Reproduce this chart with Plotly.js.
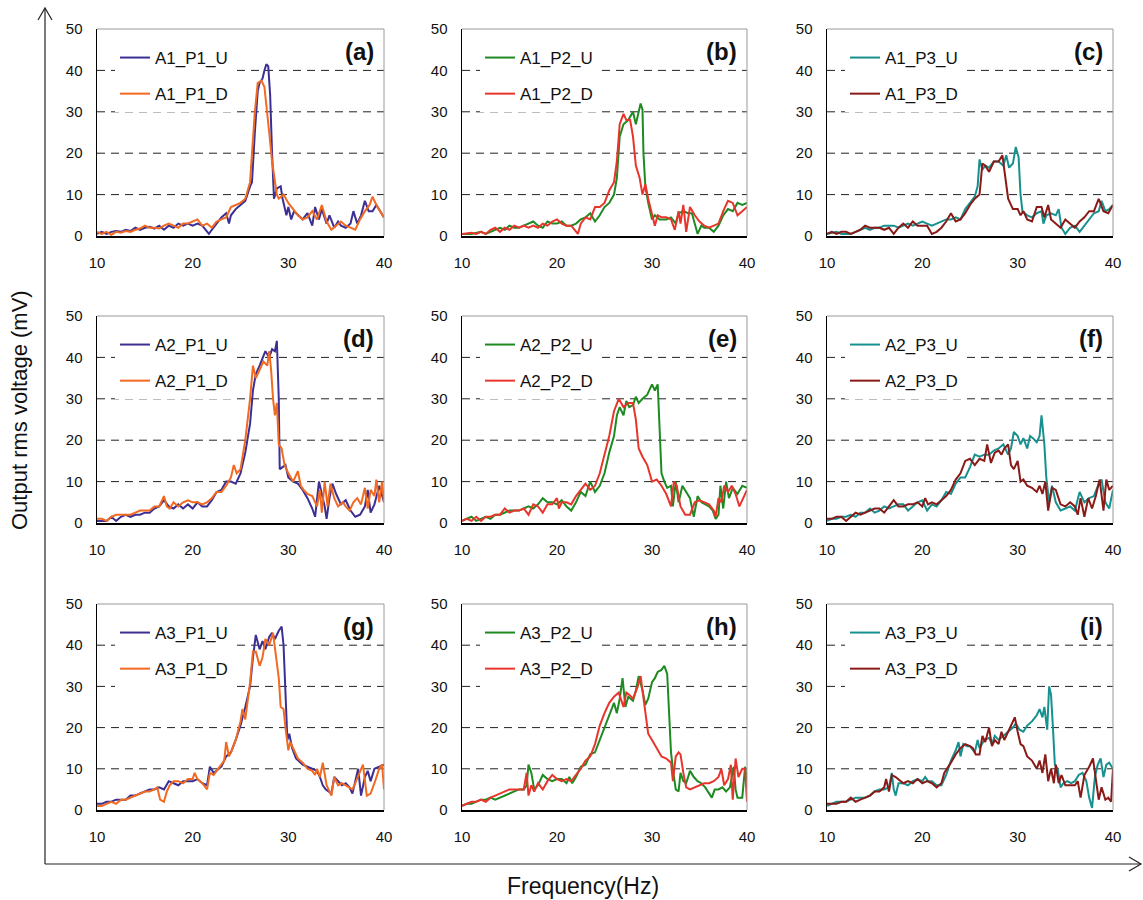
<!DOCTYPE html>
<html>
<head>
<meta charset="utf-8">
<script src="https://cdn.plot.ly/plotly-3.0.1.min.js"></script>
<style>html,body{margin:0;padding:0;background:#fff;}#chart{width:1143px;height:900px;}</style>
</head>
<body>
<div id="chart"></div>
<script>
// ---------------- DATA (frequency in Hz, output rms voltage in mV) ----------------
const xTicks = [10, 20, 30, 40];
const yTicks = [0, 10, 20, 30, 40, 50];
const gridValues = [10, 20, 30, 40];
const panelLabels = ['(a)', '(b)', '(c)', '(d)', '(e)', '(f)', '(g)', '(h)', '(i)'];

const freq_A1_P1_U = [10,10.5,11,11.5,12,12.5,13,13.5,14,14.5,15,15.5,16,16.5,17,17.5,18,18.5,19,19.5,20,20.5,21,21.7,22,22.5,23,23.5,23.8,24,24.5,25,25.5,26,26.2,26.5,26.8,27,27.3,27.5,27.7,27.9,28.1,28.3,28.5,28.8,29.2,29.4,29.8,30,30.3,30.6,31,31.5,32,32.5,32.8,33.2,33.5,34,34.3,34.8,35.2,35.5,36,36.5,36.8,37.2,37.6,38,38.4,38.8,39.2,39.6,40];
const volt_A1_P1_U = [0.5,1,0.5,1,1.2,1,1.5,1.2,2,1.5,2,2.2,1.8,2.5,1.5,2.5,2,3,2.5,3,2.5,3,2.5,0.5,1.5,3,4.5,5.5,3,5,6.5,7.5,8.5,12,13,25,35,37,38,40,41.5,41,34,20,9,11.5,12,9,5,7,4,6,5,4,5.5,2.5,7,4,6.5,3,5,2,3.5,2.5,2,3,6,3,5,8.5,6,6,7.5,6,4.5];
const freq_A1_P1_D = [10,10.5,11,11.5,12,12.5,13,13.5,14,14.5,15,15.5,16,16.5,17,17.5,18,18.5,19,19.5,20,20.5,21,21.5,22,22.5,23,23.5,24,24.5,25,25.5,26,26.2,26.5,26.8,27.2,27.5,27.8,28,28.3,28.5,28.8,29,29.5,30,30.5,31,31.5,32,32.5,33,33.5,34,34.5,35,35.5,36,36.5,37,37.5,38,38.5,38.8,39.2,39.6,40];
const volt_A1_P1_D = [1,0.5,1,0.3,1,0.8,1.2,1,1.5,1.8,2.5,2,2,1.8,2.5,3,2.5,2,3,3,3.5,4,2.5,3,2,3.5,4,4.5,7,7.5,8,9,13,20,30,37,37.5,36,30,25,18,15,10,9,10,8,6.5,5,4,4.5,6,4,7.5,3.5,1.5,2.5,3.5,2.5,2,1.5,4,6,7.5,9.5,7.5,6,4.5];

const freq_A1_P2_U = [10,11,12,12.5,13,13.5,14,14.5,15,15.5,16,16.5,17,17.5,18,18.5,19,19.5,20,20.5,21,21.5,22,22.5,23,23.5,24,24.5,25,25.5,26,26.3,26.6,27,27.5,28,28.3,28.5,28.8,29,29.1,29.3,29.6,30,30.3,30.8,31.5,32,32.5,32.8,33.3,33.8,34.2,34.5,34.8,35.2,35.5,36,36.5,37,37.5,38,38.5,39,39.5,40];
const volt_A1_P2_U = [0.5,0.5,1,0.5,1,1.5,2,1.5,2.5,2,2,2.5,3,3.5,2.5,2,3.5,3,3,3.5,2.5,2.5,3,4,4.5,5.5,3.5,5,7,8,10,14,24,27,28,30,27,29,32,30.5,20,12,8,4,5,4,4,4.5,3,5.5,6,5.5,5.5,3,0.5,2.5,2,2,1,2.5,5,6.5,6,8,7.5,8];
const freq_A1_P2_D = [10,11,11.5,12,12.5,13,13.5,14,14.5,15,15.5,16,16.5,17,17.5,18,18.5,19,19.5,20,20.5,21,21.5,22,22.2,22.5,23,23.5,24,24.5,25,25.5,26,26.3,26.6,27,27.3,27.7,28,28.3,28.7,29,29.3,29.6,30,30.3,30.6,31,31.5,32,32.4,32.8,33,33.3,33.6,34,34.5,35,35.5,36,36.5,37,37.5,38,38.5,39,39.5,40];
const volt_A1_P2_D = [0.5,0.8,0.5,1,0.5,1.5,2,1,2,1.5,2.5,2,2.5,2,2.5,2,3,2.5,3.5,4,3,2.5,2.5,1,0.5,3,4.5,4,7,7,8,11,13,18,27,29.5,28,28,24,17,14,10,12.5,9,5,2.5,5,4.5,4.5,4,1.5,6,3,7.5,1,7,5,3.5,2.5,2,2.5,3,6,8.5,8,5,6,7];

const freq_A1_P3_U = [10,11,11.5,12,12.5,13,13.5,14,14.5,15,15.5,16,16.5,17,17.5,18,18.5,19,19.5,20,20.5,21,21.5,22,22.5,23,23.5,24,24.5,25,25.5,25.8,26,26.3,26.6,27,27.5,28,28.5,28.8,29.1,29.5,29.8,30.1,30.3,30.5,31,31.5,32,32.5,32.7,33,33.5,34,34.3,34.6,35,35.5,36,36.5,37,37.5,38,38.5,38.8,39.2,39.6,40];
const volt_A1_P3_U = [0.5,1,0.5,0.5,0.5,1,1.5,2,1.5,2,2,2.5,2.5,2.5,2,2.5,3,2.5,3,3.5,3,2.5,3,3.5,4,4,4.5,4,6.5,8,9.5,12,18.5,16,17,16.5,18,18,17,19.5,16.5,17.5,21.5,19,10,6,5,4.5,5.5,6,3,5,5.5,5,6.5,2,0.5,2,2.5,1,2.5,4,5.5,6,8.5,6,6.5,7.5];
const freq_A1_P3_D = [10,10.5,11,11.5,12,12.5,13,13.5,14,14.5,15,15.5,16,16.5,17,17.5,18,18.5,19,19.5,20,20.5,21,21.5,22,22.5,23,23.5,24,24.5,25,25.5,26,26.3,26.6,27,27.5,28,28.4,28.7,29,29.5,30,30.3,30.6,31,31.5,32,32.5,32.8,33.2,33.5,34,34.5,35,35.5,36,36.5,37,37.5,38,38.5,39,39.5,40];
const volt_A1_P3_D = [0.5,1,0.5,1,1,0.5,1,1.5,2.5,2,2,2,1.5,2,0.5,2,3,2,3.5,2.5,2.5,2.5,0.5,1,2,3.5,5.5,3.5,4,5.5,7.5,9,10,17.5,17,15.5,18,18,19.5,14,9,6.5,6.5,5,6,4,3.5,7,7,4.5,7.5,4,3,2,4,3,2,3.5,4.5,6,6,9,6,5.5,7.5];

const freq_A2_P1_U = [10,10.5,11,11.5,12,12.5,13,13.5,14,14.5,15,15.5,16,16.5,17,17.5,18,18.5,19,19.5,20,20.5,21,21.5,22,22.5,23,23.5,24,24.5,25,25.5,26,26.3,26.6,27,27.3,27.6,28,28.3,28.6,28.8,29,29.1,29.4,29.7,30,30.5,31,31.5,32,32.5,32.8,33.2,33.5,33.8,34,34.3,34.6,35,35.5,36,36.5,37,37.5,38,38.3,38.6,39,39.5,40];
const volt_A2_P1_U = [0.5,0.5,0.5,1.5,0.5,1.5,2,1.5,2,2,2.5,2.5,3.5,4,5.5,4,3.5,4.5,3.5,4.5,3.5,5,4,4,5.5,7.5,8,10,10,9.5,12,17,24,32,36,38,40,41.5,40,42,41.5,44,30,13,13.5,14,11,10,9.5,8,6,3.5,1.5,10,7,4,1,6,9.5,7,4.5,5.5,3,1.5,2,4,8,2.5,4.5,9,5];
const freq_A2_P1_D = [10,10.5,11,11.5,12,12.5,13,13.5,14,14.5,15,15.5,16,16.5,17,17.3,17.6,18,18.5,19,19.5,20,20.5,21,21.5,22,22.5,23,23.5,24,24.3,24.6,25,25.5,26,26.3,26.6,27,27.4,27.8,28,28.2,28.4,28.6,28.8,29,29.3,29.6,30,30.5,31,31.3,31.6,32,32.5,33,33.3,33.5,33.8,34.1,34.4,34.8,35.2,35.7,36,36.4,36.8,37.2,37.6,38,38.3,38.6,39,39.2,39.5,39.8,40];
const volt_A2_P1_D = [1,1,0.5,1.5,2,2,2,2,2.5,3,3,3,4,4,6.5,4,3.5,5,4,5,5.5,5,5,4.5,5,6,7.5,7.5,9,11,14,12,13,20,30,38,35,37,39,38,41.5,37,30,26,29,19,18,14,12,10,12.5,9,8,7,6.5,4,8,2.5,10,4,9.5,6,4,5,4,3,5,6,4.5,8.5,3.5,8,6.5,10.5,5,10,5];

const freq_A2_P2_U = [10,10.5,11,11.5,12,12.5,13,13.5,14,14.5,15,15.5,16,16.5,17,17.5,18,18.5,19,19.5,20,20.5,21,21.5,22,22.5,23,23.5,24,24.5,25,25.5,26,26.3,26.6,27,27.3,27.6,28,28.3,28.6,29,29.5,30,30.3,30.6,30.8,31,31.3,31.6,32,32.2,32.5,32.8,33.2,33.6,34,34.4,34.8,35.2,35.6,36,36.4,36.7,37,37.2,37.5,37.8,38.1,38.5,39,39.5,40];
const volt_A2_P2_U = [0.5,1,1.5,0.5,1,1.5,1,2,2,2.5,3,3,3,3.5,4,3.5,4.5,6,5,5,4.5,5.5,4,3,5,7.5,6.5,10,7.5,9,12,17,21,26,28,26,29.5,28,28.5,30.5,29,30,31,33.5,32,33.5,23,12,10,8.5,9,4,10,5,9,7.5,6,1.5,6.5,5,4.5,4,3,1,2,9,3.5,10,6,8.5,7,9,8.5];
const freq_A2_P2_D = [10,10.5,11,11.5,12,12.5,13,13.5,14,14.5,15,15.5,16,16.5,17,17.5,18,18.5,19,19.5,20,20.2,20.5,21,21.5,22,22.5,23,23.5,24,24.5,25,25.5,26,26.5,27,27.5,28,28.3,28.6,29,29.5,30,30.5,31,31.5,32,32.3,32.6,33,33.5,34,34.5,35,35.5,36,36.5,36.7,37,37.3,37.6,38,38.4,38.8,39.2,39.6,40];
const volt_A2_P2_D = [0.5,1,0.5,1.5,0.5,1.5,1.5,2,2,3.5,2.5,3,3,3.5,2,4.5,4,2.5,4.5,4.5,6,3.5,5,5,4.5,6.5,8,9.5,8,9,12,16.5,21,27,30,28,29,29,25,18,16,14,10,10.5,9,7,4,10,9,4,2,2,5,5.5,5,4.5,3,1.5,6,5,9,7.5,9,7,4,6,8];

const freq_A2_P3_U = [10,10.5,11,11.5,12,12.5,13,13.5,14,14.5,15,15.5,16,16.5,17,17.5,18,18.5,19,19.5,20,20.5,21,21.5,22,22.5,23,23.5,24,24.5,25,25.5,26,26.5,27,27.5,28,28.5,29,29.3,29.6,30,30.3,30.6,31,31.3,31.6,32,32.3,32.5,32.8,33,33.3,33.6,34,34.5,35,35.5,36,36.5,37,37.5,38,38.5,38.8,39.2,39.6,40];
const volt_A2_P3_U = [0.5,1,1,1.5,1.5,2,1.5,2.5,2.5,3.5,2.5,3,4,3.5,4,4.5,4.5,3,4,5,5.5,3,4.5,4,5.5,7.5,7,9.5,11,11,13.5,16.5,16,16.5,16.5,17.5,18,19,16.5,18,22,21,19,20.5,18,21,20.5,19.5,21,26,19,11,5,9,5,3,3.5,4,3,7.5,5,6,6.5,9.5,10.5,5,3.5,8];
const freq_A2_P3_D = [10,10.5,11,11.5,12,12.5,13,13.5,14,14.5,15,15.5,16,16.5,17,17.5,18,18.5,19,19.5,20,20.3,20.6,21,21.5,22,22.5,23,23.5,24,24.5,25,25.5,26,26.5,26.8,27.2,27.6,28,28.3,28.6,29,29.3,29.6,30,30.3,30.6,31,31.5,32,32.3,32.6,32.9,33.2,33.6,34,34.5,35,35.5,36,36.3,36.6,37,37.4,37.8,38.2,38.6,39,39.3,39.6,40];
const volt_A2_P3_D = [1,1,1.5,1.5,0.5,1.5,2.5,2,2.5,3,3.5,3.5,2.5,4,5.5,4,4,4.5,4.5,5,4,6,4.5,5,4.5,5.5,6.5,8,10.5,12,15,15.5,14,15.5,15,19,14.5,17,17.5,16.5,18,19,14,13,15,10,10.5,9,8.5,7.5,9,7,10,3,8.5,8,4.5,4,5,4,2,6,1.5,6,3.5,6.5,10.5,3,10.5,8,9];

const freq_A3_P1_U = [10,10.5,11,11.5,12,12.5,13,13.5,14,14.5,15,15.5,16,16.5,17,17.5,18,18.5,19,19.5,20,20.5,21,21.5,21.8,22.2,22.5,23,23.5,24,24.5,25,25.5,26,26.3,26.6,27,27.3,27.6,28,28.3,28.6,29,29.3,29.5,29.7,29.9,30.1,30.4,30.8,31.5,32,32.5,33,33.3,33.6,33.9,34.2,34.5,34.8,35.2,35.6,36,36.4,36.7,37,37.3,37.6,38,38.3,38.6,39,39.5,40];
const volt_A3_P1_U = [1.5,1.5,2,2,2.5,2.5,2.5,3.5,3.5,4,4.5,5,5,5.5,5,7,6.5,6,7,7,7,7.5,6.5,6,10.5,9,9.5,10.5,13,14,17,20.5,25,30,37,42.5,39,41,39,42,43,41.5,43.5,44.5,40,27,17,18.5,15,12.5,11,10.5,10,9.5,8,6,5,4.5,4,8,7,6,6.5,5.5,4,7,10,3.5,8,9.5,7,10,10.5,11];
const freq_A3_P1_D = [10,10.5,11,11.5,12,12.5,13,13.5,14,14.5,15,15.5,16,16.3,16.6,17,17.3,17.6,18,18.5,19,19.5,20,20.2,20.5,21,21.5,21.8,22.2,22.5,23,23.3,23.5,23.8,24,24.5,25,25.2,25.5,25.8,26,26.3,26.6,27,27.3,27.6,28,28.4,28.7,29,29.2,29.5,29.7,30,30.2,30.5,31,31.5,32,32.5,32.8,33,33.3,33.6,34,34.5,34.8,35.2,35.6,36,36.4,36.7,37,37.4,37.8,38.2,38.6,39,39.5,39.8,40];
const volt_A3_P1_D = [1,1,1.5,2,1.5,2.5,2.5,3,3.5,4,4.5,4.5,5,5.5,2.5,2,4.5,6,7,7,6.5,7.5,7.5,9,7.5,6.5,5,9,8.5,9.5,11,12,16.5,13,14,17,21.5,24.5,22,27,31,38.5,38.5,35,37,41.5,40,43,38,32,25,24.5,20,14.5,16.5,15,12.5,11.5,10,9.5,8.5,10,8,11.5,6,3.5,8,6,6.5,6,5.5,5,6.5,9,11,3.5,4,6.5,10,11,5];

const freq_A3_P2_U = [10,10.5,11,11.5,12,12.5,13,13.5,14,14.5,15,15.5,16,16.5,16.8,17,17.3,17.6,18,18.5,19,19.5,20,20.5,21,21.3,21.6,22,22.5,23,23.5,24,24.5,25,25.5,26,26.3,26.6,26.9,27.2,27.5,28,28.3,28.6,29,29.3,29.6,30,30.3,30.6,31,31.3,31.6,31.8,32,32.2,32.5,32.8,33,33.3,33.6,34,34.4,34.8,35.2,35.6,36,36.3,36.6,37,37.4,37.8,38.2,38.6,38.8,39,39.5,39.8,40];
const volt_A3_P2_U = [1,1.5,1.5,2,2.5,2.5,3,2.5,3,3.5,4,4.5,5,5,6,11,9,5,6,8.5,7.5,7,7.5,7.5,6.5,8,6.5,8,10.5,11,13.5,14,17,20.5,23.5,26,23.5,27,32,25,27.5,26.5,29,32.5,29,25.5,27,31,32,33.5,34,35,33,22,14,10,5,4.5,9,7,6.5,9.5,8,7,6.5,5.5,4,3,5,5,5.5,4.5,5.5,10.5,5,3,3,10.5,7];
const freq_A3_P2_D = [10,10.5,11,11.5,12,12.5,13,13.5,14,14.5,15,15.5,16,16.5,16.8,17,17.3,17.6,18,18.5,19,19.5,20,20.5,21,21.5,22,22.5,23,23.5,24,24.5,25,25.5,26,26.5,27,27.3,27.6,28,28.5,28.8,29,29.3,29.6,30,30.5,31,31.5,32,32.2,32.5,32.8,33,33.3,33.6,34,34.5,35,35.5,36,36.5,37,37.3,37.6,38,38.3,38.5,38.8,39.1,39.5,39.8,40];
const volt_A3_P2_D = [1,1.5,2,2,2.5,2,3,3.5,4,4.5,5,5,5,5,9,3.5,6,4.5,6.5,5,7,8.5,7.5,7,7.5,7,8.5,10,12,13,16,20.5,23.5,26,27.5,28.5,25,28.5,28,27,30,32.5,29,23,18.5,17,15,13,12.5,11.5,7,13,14,13.5,9,5.5,5,5.5,6,6.5,6.5,7,8,10,6,7.5,11,2.5,12.5,8,10,10,2];

const freq_A3_P3_U = [10,10.5,11,11.5,12,12.5,13,13.5,14,14.5,15,15.5,16,16.5,16.8,17,17.2,17.5,18,18.5,19,19.5,20,20.3,20.6,21,21.5,22,22.5,23,23.5,23.8,24,24.3,24.7,25,25.5,25.8,26,26.5,27,27.3,27.6,28,28.5,29,29.5,29.8,30.2,30.6,31,31.5,32,32.3,32.6,32.8,33.1,33.3,33.5,33.7,33.9,34.2,34.5,34.8,35.2,35.6,36,36.4,36.8,37.2,37.5,37.8,38.1,38.4,38.7,39,39.3,39.6,40];
const volt_A3_P3_U = [1,1.5,2,2,2,2.5,3,3,3,3.5,4.5,5,5,5.5,9,5,3.5,6.5,6.5,6,7,7.5,7,8,7,7,6,6,8.5,12,14.5,16.5,13,16,15.5,15.5,14,17,15,17,17.5,16,18,17,18,19,20,21,19.5,19,20.5,21.5,23,24.5,22.5,25,19.5,30,28,20,11,10,5.5,6.5,7,6.5,7,8.5,9,7,3,0.5,8,11,12.5,8,11,11.5,10];
const freq_A3_P3_D = [10,10.5,11,11.5,12,12.5,13,13.5,14,14.5,15,15.5,16,16.2,16.5,16.8,17.2,17.5,18,18.5,19,19.5,20,20.5,21,21.5,22,22.3,22.6,23,23.5,24,24.5,25,25.3,25.6,26,26.3,26.6,27,27.3,27.6,28,28.3,28.6,29,29.4,29.7,30,30.3,30.6,31,31.5,32,32.3,32.6,32.9,33.2,33.5,33.8,34,34.3,34.6,35,35.5,36,36.3,36.6,37,37.5,37.9,38.2,38.5,38.8,39.2,39.5,39.8,40];
const volt_A3_P3_D = [1.5,1.5,1.5,2,2,3,2,2.5,3,3.5,4.5,4.5,5.5,7.5,4.5,8.5,8,7.5,6.5,7,6.5,7.5,6.5,7,6.5,5.5,6.5,9,10,11.5,13.5,15,16,15.5,15,13.5,13.5,18,16.5,20,15.5,17,16,19,17,19,21,22.5,19,16,15.5,13,12,10,12,9,13.5,7,10,6.5,11,6.5,8.5,6,6,6,7,3,8.5,10.5,12.5,7,2.5,5.5,2.5,3,2,10];

// ---------------- PANEL SETUP ----------------
const panels = [
  {U:['A1_P1_U', freq_A1_P1_U, volt_A1_P1_U], D:['A1_P1_D', freq_A1_P1_D, volt_A1_P1_D], p:1},
  {U:['A1_P2_U', freq_A1_P2_U, volt_A1_P2_U], D:['A1_P2_D', freq_A1_P2_D, volt_A1_P2_D], p:2},
  {U:['A1_P3_U', freq_A1_P3_U, volt_A1_P3_U], D:['A1_P3_D', freq_A1_P3_D, volt_A1_P3_D], p:3},
  {U:['A2_P1_U', freq_A2_P1_U, volt_A2_P1_U], D:['A2_P1_D', freq_A2_P1_D, volt_A2_P1_D], p:1},
  {U:['A2_P2_U', freq_A2_P2_U, volt_A2_P2_U], D:['A2_P2_D', freq_A2_P2_D, volt_A2_P2_D], p:2},
  {U:['A2_P3_U', freq_A2_P3_U, volt_A2_P3_U], D:['A2_P3_D', freq_A2_P3_D, volt_A2_P3_D], p:3},
  {U:['A3_P1_U', freq_A3_P1_U, volt_A3_P1_U], D:['A3_P1_D', freq_A3_P1_D, volt_A3_P1_D], p:1},
  {U:['A3_P2_U', freq_A3_P2_U, volt_A3_P2_U], D:['A3_P2_D', freq_A3_P2_D, volt_A3_P2_D], p:2},
  {U:['A3_P3_U', freq_A3_P3_U, volt_A3_P3_U], D:['A3_P3_D', freq_A3_P3_D, volt_A3_P3_D], p:3}
];

const colorU = {1:'#3B2F94', 2:'#1E8A22', 3:'#17918F'};
const colorD = {1:'#F26A21', 2:'#E8352B', 3:'#8A1A17'};

const W = 1143, H = 900;
const px = v => v / W;
const py = v => 1 - v / H;
const colX = [[97, 384], [462, 747], [827, 1113]];
const rowY = [[29, 236], [316, 523], [604, 810]];

const traces = [];
const layout = {
  width: W, height: H,
  margin: {l: 0, r: 0, t: 0, b: 0},
  paper_bgcolor: '#fff', plot_bgcolor: '#fff',
  showlegend: true,
  shapes: [], annotations: []
};

const FONT = 'Arial, "Liberation Sans", sans-serif';

panels.forEach((pn, i) => {
  const k = i + 1;
  const sfx = k === 1 ? '' : String(k);
  const xa = 'x' + sfx, ya = 'y' + sfx;
  const lg = 'legend' + sfx;
  const r = Math.floor(i / 3), c = i % 3;
  const [x0, x1] = colX[c], [y0, y1] = rowY[r];

  layout['xaxis' + sfx] = {
    domain: [px(x0), px(x1)], anchor: ya, range: [10, 40],
    tickvals: xTicks, ticktext: xTicks.map(String),
    ticks: 'outside', ticklen: 12, tickcolor: 'rgba(0,0,0,0)',
    showline: true, linecolor: '#000', linewidth: 1.5,
    showgrid: false, zeroline: false, fixedrange: true,
    tickfont: {family: FONT, size: 15, color: '#111'}
  };
  layout['yaxis' + sfx] = {
    domain: [py(y1), py(y0)], anchor: xa, range: [0, 50],
    tickvals: yTicks, ticktext: yTicks.map(String),
    ticks: 'outside', ticklen: 10, tickcolor: 'rgba(0,0,0,0)',
    showline: true, linecolor: '#000', linewidth: 1.5,
    showgrid: false, zeroline: false, fixedrange: true,
    tickfont: {family: FONT, size: 15, color: '#111'}
  };

  // dashed grid lines
  gridValues.forEach(g => layout.shapes.push({
    type: 'line', layer: 'below', xref: xa + ' domain', yref: ya,
    x0: 0, x1: 1, y0: g, y1: g,
    line: {color: '#222', width: 1, dash: '8px,6px'}
  }));
  // grey top & right frame
  layout.shapes.push({type: 'line', xref: xa + ' domain', yref: ya + ' domain', x0: 0, x1: 1, y0: 1, y1: 1, line: {color: '#9a9a9a', width: 1}});
  layout.shapes.push({type: 'line', xref: xa + ' domain', yref: ya + ' domain', x0: 1, x1: 1, y0: 0, y1: 1, line: {color: '#9a9a9a', width: 1}});

  traces.push({
    type: 'scatter', mode: 'lines', name: pn.U[0], x: pn.U[1], y: pn.U[2],
    xaxis: xa, yaxis: ya, legend: lg, legendgroup: 'u' + k,
    line: {color: colorU[pn.p], width: 2}
  });
  traces.push({
    type: 'scatter', mode: 'lines', name: pn.D[0], x: pn.D[1], y: pn.D[2],
    xaxis: xa, yaxis: ya, legend: lg, legendgroup: 'd' + k,
    line: {color: colorD[pn.p], width: 2}
  });

  layout[lg] = {
    x: px(x0 + 18), y: py(y0 + 11), xanchor: 'left', yanchor: 'top',
    bgcolor: '#fff', borderwidth: 0,
    font: {family: FONT, size: 17, color: '#111'},
    traceorder: 'grouped', tracegroupgap: 11, itemwidth: 30
  };

  layout.annotations.push({
    xref: xa + ' domain', yref: ya + ' domain', x: 1, y: 1,
    xanchor: 'right', yanchor: 'top', xshift: -8, yshift: -7,
    text: '<b>' + panelLabels[i] + '</b>', showarrow: false,
    font: {family: FONT, size: 24, color: '#111'}
  });
});

// outer axes with arrows
const ax = 45, ay = 864, topY = 8, rightX = 1141;
layout.shapes.push({type: 'line', xref: 'paper', yref: 'paper', x0: px(ax), x1: px(ax), y0: py(ay), y1: py(topY), line: {color: '#222', width: 1.2}});
layout.shapes.push({type: 'line', xref: 'paper', yref: 'paper', x0: px(ax), x1: px(rightX), y0: py(ay), y1: py(ay), line: {color: '#222', width: 1.2}});
layout.shapes.push({type: 'path', xref: 'paper', yref: 'paper',
  path: `M ${px(ax - 7)},${py(topY + 12)} L ${px(ax)},${py(topY)} L ${px(ax + 7)},${py(topY + 12)}`,
  line: {color: '#222', width: 1.2}});
layout.shapes.push({type: 'path', xref: 'paper', yref: 'paper',
  path: `M ${px(rightX - 12)},${py(ay - 7)} L ${px(rightX)},${py(ay)} L ${px(rightX - 12)},${py(ay + 7)}`,
  line: {color: '#222', width: 1.2}});

// axis titles
layout.annotations.push({
  xref: 'paper', yref: 'paper', x: px(20), y: py(410), textangle: -90,
  xanchor: 'center', yanchor: 'middle', showarrow: false,
  text: 'Output rms voltage (mV)',
  font: {family: FONT, size: 22, color: '#111'}
});
layout.annotations.push({
  xref: 'paper', yref: 'paper', x: px(583), y: py(886),
  xanchor: 'center', yanchor: 'middle', showarrow: false,
  text: 'Frequency(Hz)',
  font: {family: FONT, size: 23, color: '#111'}
});

Plotly.newPlot('chart', traces, layout, {displayModeBar: false, staticPlot: true});
</script>
</body>
</html>
